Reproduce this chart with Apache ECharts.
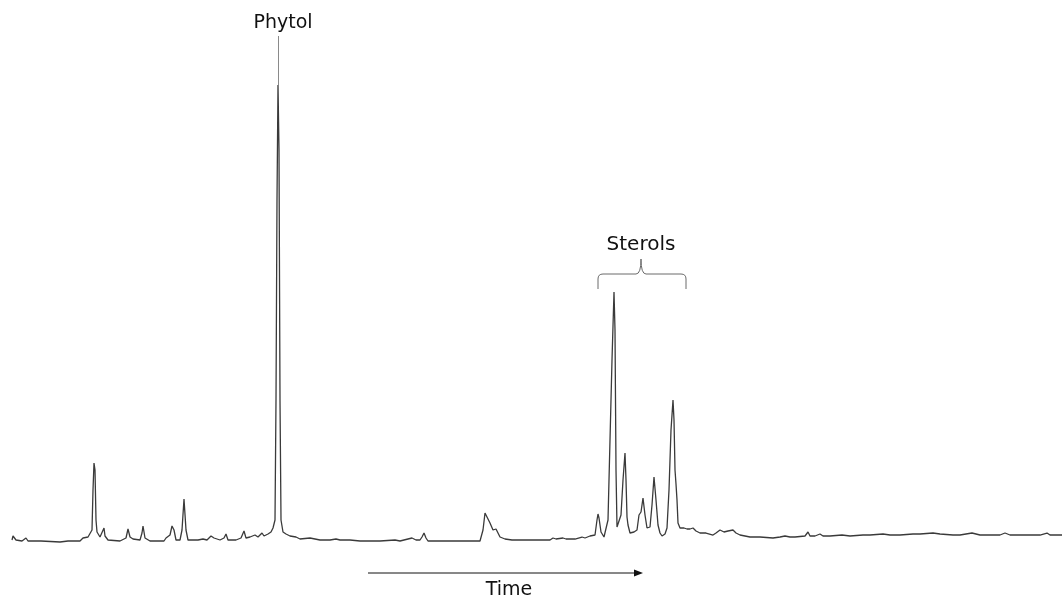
<!DOCTYPE html>
<html>
<head>
<meta charset="utf-8">
<script src="https://cdn.jsdelivr.net/npm/echarts@6/dist/echarts.min.js"></script>
<style>
  html, body { margin: 0; padding: 0; background: #fff; }
  #chart { width: 1062px; height: 599px; }
</style>
</head>
<body>
<div id="chart"></div>
<script>
// retention time (arbitrary units) and detector signal
var times = [
  12, 13, 14, 16, 22, 26, 28, 37, 39, 41, 60, 68, 80, 83, 85, 88, 90, 92, 93, 94,
  95, 96, 97, 100, 102, 104, 105, 108, 120, 126, 128, 130, 133, 140, 142, 143, 145, 150, 164, 166,
  168, 170, 172, 174, 176, 180, 182, 184, 186, 188, 198, 203, 207, 211, 214, 220, 224, 226, 228, 236,
  241, 244, 246, 250, 255, 258, 262, 264, 268, 271, 273, 275, 276, 277, 278, 279, 280, 281, 283, 286,
  290, 296, 300, 310, 320, 330, 336, 340, 350, 360, 380, 395, 400, 408, 412, 416, 420, 422, 424, 426,
  428, 460, 480, 482, 483, 485, 487, 490, 493, 495, 496, 498, 500, 505, 512, 530, 550, 553, 556, 563,
  566, 575, 582, 585, 590, 595, 597, 598, 599, 601, 604, 606, 608, 610, 612, 614, 615, 616, 617, 619,
  621, 623, 625, 626, 627, 628, 630, 634, 637, 639, 641, 643, 645, 647, 650, 652, 654, 656, 658, 660,
  662, 665, 667, 669, 671, 673, 674, 675, 676, 677, 678, 680, 682, 684, 685, 687, 688, 690, 693, 696,
  698, 700, 706, 713, 716, 720, 724, 728, 733, 736, 740, 750, 760, 773, 780, 785, 787, 790, 795, 805,
  808, 810, 815, 820, 823, 830, 842, 850, 863, 870, 883, 890, 900, 913, 920, 933, 940, 953, 960, 972,
  980, 1000, 1005, 1010, 1030, 1040, 1047, 1050, 1062
];
var signal = [
  20, 24, 25, 20, 19, 22, 19, 19, 21, 19, 18, 19, 19, 22, 20, 23, 21, 30, 70, 97,
  90, 40, 28, 23, 23, 32, 24, 20, 19, 22, 31, 23, 21, 20, 27, 34, 22, 19, 19, 22,
  23, 25, 34, 30, 20, 20, 30, 61, 30, 20, 20, 21, 20, 24, 22, 20, 22, 26, 20, 20,
  22, 29, 22, 23, 25, 23, 27, 24, 26, 28, 32, 40, 160, 360, 475, 410, 160, 40, 28, 26,
  24, 23, 21, 22, 20, 20, 21, 20, 20, 19, 19, 20, 19, 21, 22, 20, 20, 23, 27, 22,
  19, 19, 19, 20, 30, 47, 45, 37, 30, 29, 31, 27, 23, 21, 20, 20, 20, 22, 21, 22,
  21, 21, 23, 22, 24, 25, 40, 46, 42, 28, 23, 24, 40, 120, 200, 268, 230, 90, 33, 32,
  45, 80, 107, 80, 43, 35, 27, 28, 30, 45, 48, 62, 45, 32, 33, 55, 83, 60, 35, 27,
  24, 26, 32, 70, 130, 160, 140, 90, 76, 60, 37, 32, 34, 32, 33, 31, 33, 31, 32, 29,
  27, 27, 27, 25, 27, 30, 28, 29, 30, 27, 25, 23, 23, 22, 23, 24, 26, 23, 23, 24,
  28, 24, 24, 26, 24, 24, 25, 24, 25, 25, 26, 25, 25, 26, 26, 27, 26, 25, 25, 27,
  25, 25, 27, 25, 25, 25, 27, 25, 25
];

var labels = ['Phytol', 'Sterols', 'Time'];

var points = times.map(function (t, i) { return [t, signal[i]]; });

var myChart = echarts.init(document.getElementById('chart'));

var font = 'DejaVu Sans, Verdana, sans-serif';
var braceStyle = { stroke: '#6a6a6a', lineWidth: 1, fill: null };

var option = {
  backgroundColor: '#ffffff',
  animation: false,
  grid: { left: 0, right: 0, top: 0, bottom: 39 },
  xAxis: { type: 'value', min: 0, max: 1062, show: false },
  yAxis: { type: 'value', min: 0, max: 560, show: false },
  series: [{
    type: 'line',
    data: points,
    showSymbol: false,
    lineStyle: { color: '#3a3a3a', width: 1.3 },
    markLine: {
      silent: true,
      symbol: 'none',
      label: { show: false },
      lineStyle: { color: '#8a8a8a', width: 1, type: 'solid' },
      data: [[{ coord: [278, 475] }, { coord: [278, 524] }]]
    }
  }],
  graphic: [
    {
      type: 'text',
      x: 283, y: 23,
      style: { text: labels[0], fontSize: 19, fontFamily: font, fill: '#111', align: 'center', verticalAlign: 'middle' }
    },
    {
      type: 'text',
      x: 641, y: 245,
      style: { text: labels[1], fontSize: 20, fontFamily: font, fill: '#111', align: 'center', verticalAlign: 'middle' }
    },
    // curly bracket over the sterol peaks
    { type: 'line', shape: { x1: 598, y1: 289, x2: 598, y2: 279 }, style: braceStyle },
    { type: 'bezierCurve', shape: { x1: 598, y1: 279, cpx1: 598, cpy1: 274, x2: 603, y2: 274 }, style: braceStyle },
    { type: 'line', shape: { x1: 603, y1: 274, x2: 636, y2: 274 }, style: braceStyle },
    { type: 'bezierCurve', shape: { x1: 636, y1: 274, cpx1: 641, cpy1: 274, x2: 641, y2: 259 }, style: braceStyle },
    { type: 'bezierCurve', shape: { x1: 641, y1: 259, cpx1: 641, cpy1: 274, x2: 646, y2: 274 }, style: braceStyle },
    { type: 'line', shape: { x1: 646, y1: 274, x2: 681, y2: 274 }, style: braceStyle },
    { type: 'bezierCurve', shape: { x1: 681, y1: 274, cpx1: 686, cpy1: 274, x2: 686, y2: 279 }, style: braceStyle },
    { type: 'line', shape: { x1: 686, y1: 279, x2: 686, y2: 289 }, style: braceStyle },
    // time arrow
    {
      type: 'line',
      shape: { x1: 368, y1: 573, x2: 636, y2: 573 },
      style: { stroke: '#111', lineWidth: 1 }
    },
    {
      type: 'polygon',
      shape: { points: [[634, 569.5], [643, 573], [634, 576.5]] },
      style: { fill: '#111' }
    },
    {
      type: 'text',
      x: 509, y: 590,
      style: { text: labels[2], fontSize: 19, fontFamily: font, fill: '#111', align: 'center', verticalAlign: 'middle' }
    }
  ]
};

myChart.setOption(option);
</script>
</body>
</html>
